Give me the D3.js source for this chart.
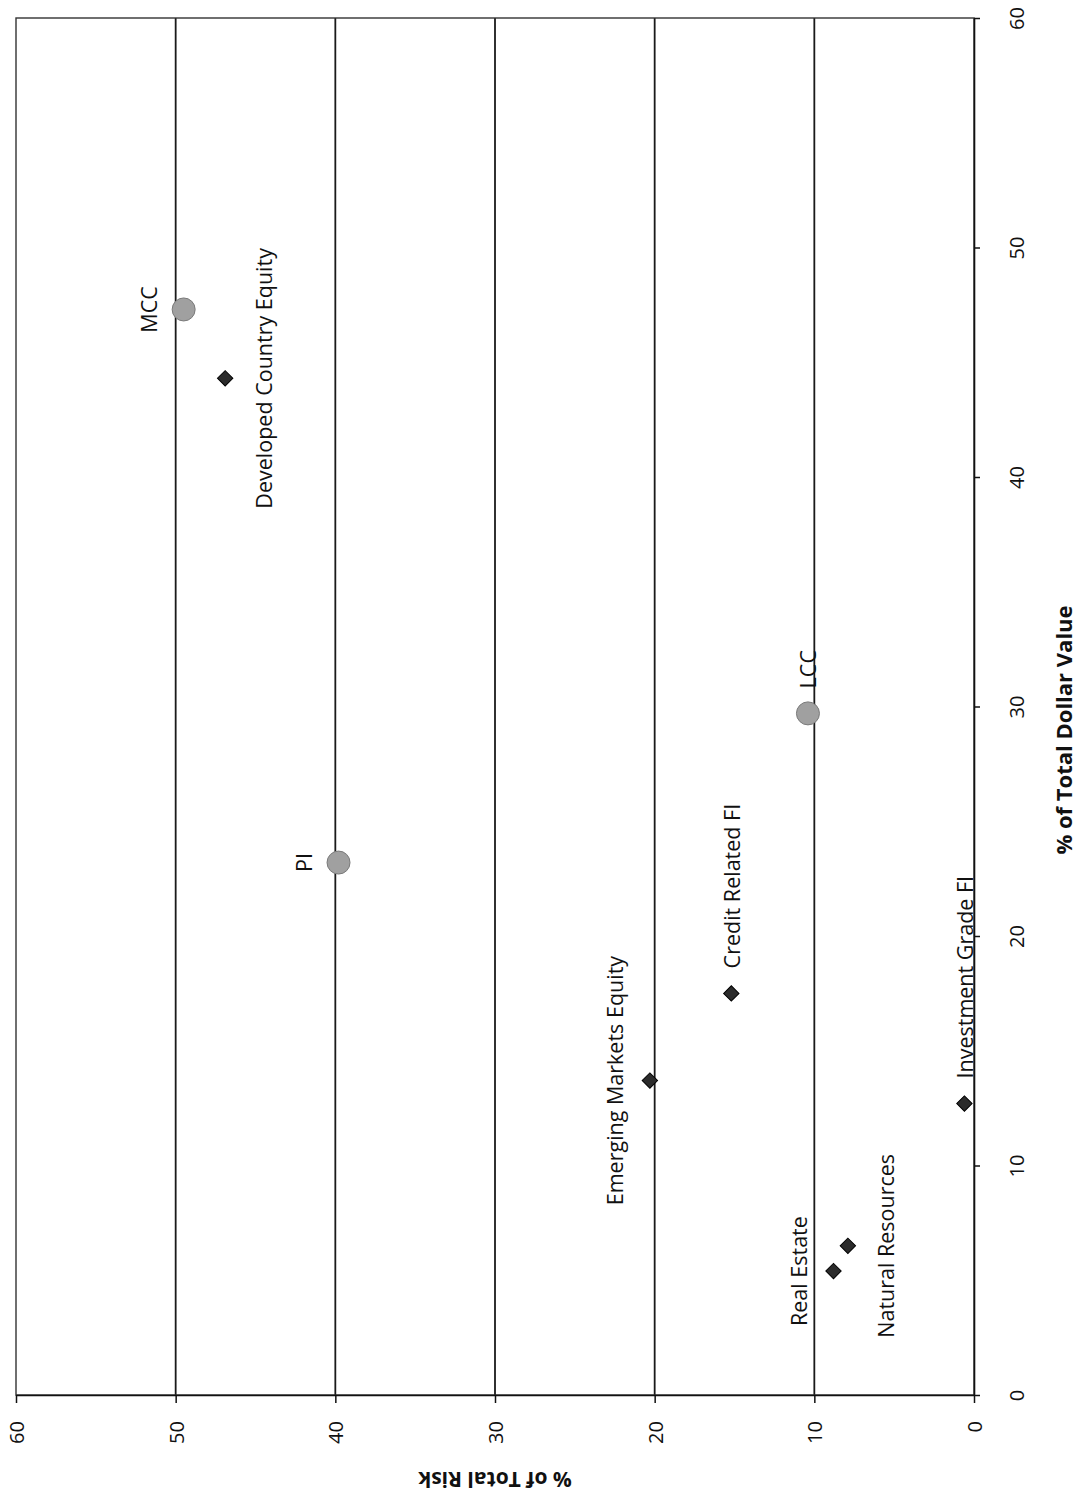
<!DOCTYPE html>
<html>
<head>
<meta charset="utf-8">
<script src="https://cdn.jsdelivr.net/npm/d3@7"></script>
<style>
  html, body { margin: 0; padding: 0; background: #fff; }
  svg { display: block; }
  text { font-family: "Open Sans", "Liberation Sans", sans-serif; fill: #111; }
</style>
</head>
<body>
<svg id="chart" width="1080" height="1497"></svg>
<script>
// ---- data ----
const assetNames = ["MCC", "Developed Country Equity", "PI", "LCC", "Credit Related FI",
  "Emerging Markets Equity", "Investment Grade FI", "Real Estate", "Natural Resources"];
const riskPct   = [49.5, 46.9, 39.8, 10.4, 15.2, 20.3, 0.6, 8.8, 7.9];   // % of Total Risk
const dollarPct = [47.3, 44.3, 23.2, 29.7, 17.5, 13.7, 12.7, 5.4, 6.5];  // % of Total Dollar Value
const markerType = ["circle", "diamond", "circle", "circle", "diamond",
  "diamond", "diamond", "diamond", "diamond"];
const labelPlacement = ["left", "right", "left", "above", "above", "left", "above", "left", "right"];
const riskTicks = [0, 10, 20, 30, 40, 50, 60];
const dollarTicks = [0, 10, 20, 30, 40, 50, 60];
const riskTitle = "% of Total Risk";
const dollarTitle = "% of Total Dollar Value";

// ---- layout (chart is drawn rotated 90° counter-clockwise) ----
const svg = d3.select("#chart");
const plotLeft = 16, plotRight = 974, plotTop = 18, plotBottom = 1395;

const xRisk = d3.scaleLinear().domain([0, 60]).range([plotRight, plotLeft]);
const yDollar = d3.scaleLinear().domain([0, 60]).range([plotBottom, plotTop]);

// gridlines (risk)
svg.append("g").selectAll("line")
  .data(riskTicks.filter(t => t > 0 && t < 60))
  .join("line")
  .attr("x1", d => xRisk(d)).attr("x2", d => xRisk(d))
  .attr("y1", plotTop).attr("y2", plotBottom)
  .attr("stroke", "#1a1a1a").attr("stroke-width", 1.8);

// plot border
svg.append("rect")
  .attr("x", plotLeft).attr("y", plotTop)
  .attr("width", plotRight - plotLeft).attr("height", plotBottom - plotTop)
  .attr("fill", "none").attr("stroke", "#333").attr("stroke-width", 1.4);

// risk axis (bottom)
const riskAxis = svg.append("g")
  .attr("transform", `translate(0,${plotBottom})`)
  .call(d3.axisBottom(xRisk).tickValues(riskTicks).tickSize(8).tickSizeOuter(0).tickFormat(d3.format("d")));
riskAxis.select(".domain").attr("stroke", "#111").attr("stroke-width", 1.6);
riskAxis.selectAll(".tick line").attr("stroke", "#111").attr("stroke-width", 1.5);
riskAxis.selectAll(".tick text")
  .attr("transform", "rotate(-90)")
  .attr("x", -26).attr("y", 0).attr("dy", null)
  .attr("dominant-baseline", "central")
  .attr("text-anchor", "end")
  .style("font-size", "20px").style("font-family", "'Open Sans', sans-serif").attr("fill", "#111");

// dollar axis (right)
const dollarAxis = svg.append("g")
  .attr("transform", `translate(${plotRight},0)`)
  .call(d3.axisRight(yDollar).tickValues(dollarTicks).tickSize(6).tickSizeOuter(0).tickFormat(d3.format("d")));
dollarAxis.select(".domain").attr("stroke", "#111").attr("stroke-width", 1.6);
dollarAxis.selectAll(".tick line").attr("stroke", "#111").attr("stroke-width", 1.5);
dollarAxis.selectAll(".tick text")
  .attr("transform", "rotate(-90)")
  .attr("x", 0).attr("y", 42).attr("dy", null)
  .attr("dominant-baseline", "central")
  .attr("text-anchor", "middle")
  .style("font-size", "20px").style("font-family", "'Open Sans', sans-serif").attr("fill", "#111");

// axis titles
svg.append("text")
  .attr("transform", `translate(${(plotLeft + plotRight) / 2},1480) rotate(180)`)
  .attr("text-anchor", "middle").attr("dominant-baseline", "central")
  .style("font-size", "21px").style("font-weight", "700")
  .text(riskTitle);
svg.append("text")
  .attr("transform", `translate(1063,730) rotate(-90)`)
  .attr("text-anchor", "middle").attr("dominant-baseline", "central")
  .style("font-size", "22px").style("font-weight", "700")
  .text(dollarTitle);

// points
const pts = assetNames.map((n, i) => ({
  name: n, risk: riskPct[i], dollar: dollarPct[i], type: markerType[i], place: labelPlacement[i]
}));

const marks = svg.append("g");
marks.selectAll("circle")
  .data(pts.filter(d => d.type === "circle"))
  .join("circle")
  .attr("cx", d => xRisk(d.risk)).attr("cy", d => yDollar(d.dollar))
  .attr("r", 11.5)
  .attr("fill", "#a0a0a0").attr("stroke", "#7a7a7a").attr("stroke-width", 1);

const diamond = d3.symbol().type(d3.symbolSquare).size(118);
marks.selectAll("path")
  .data(pts.filter(d => d.type === "diamond"))
  .join("path")
  .attr("d", diamond)
  .attr("transform", d => `translate(${xRisk(d.risk)},${yDollar(d.dollar)}) rotate(45)`)
  .attr("fill", "#2b2b2b").attr("stroke", "#000").attr("stroke-width", 1);

// labels
svg.append("g").selectAll("text")
  .data(pts)
  .join("text")
  .attr("transform", d => {
    const px = xRisk(d.risk), py = yDollar(d.dollar);
    let lx = px, ly = py;
    if (d.place === "left") lx = px - 35;
    else if (d.place === "right") lx = px + 38;
    else if (d.place === "above") ly = py - 25;
    return `translate(${lx},${ly}) rotate(-90)`;
  })
  .attr("text-anchor", d => d.place === "above" ? "start" : "middle")
  .attr("dominant-baseline", "central")
  .style("font-size", "21.5px")
  .text(d => d.name);
</script>
</body>
</html>
